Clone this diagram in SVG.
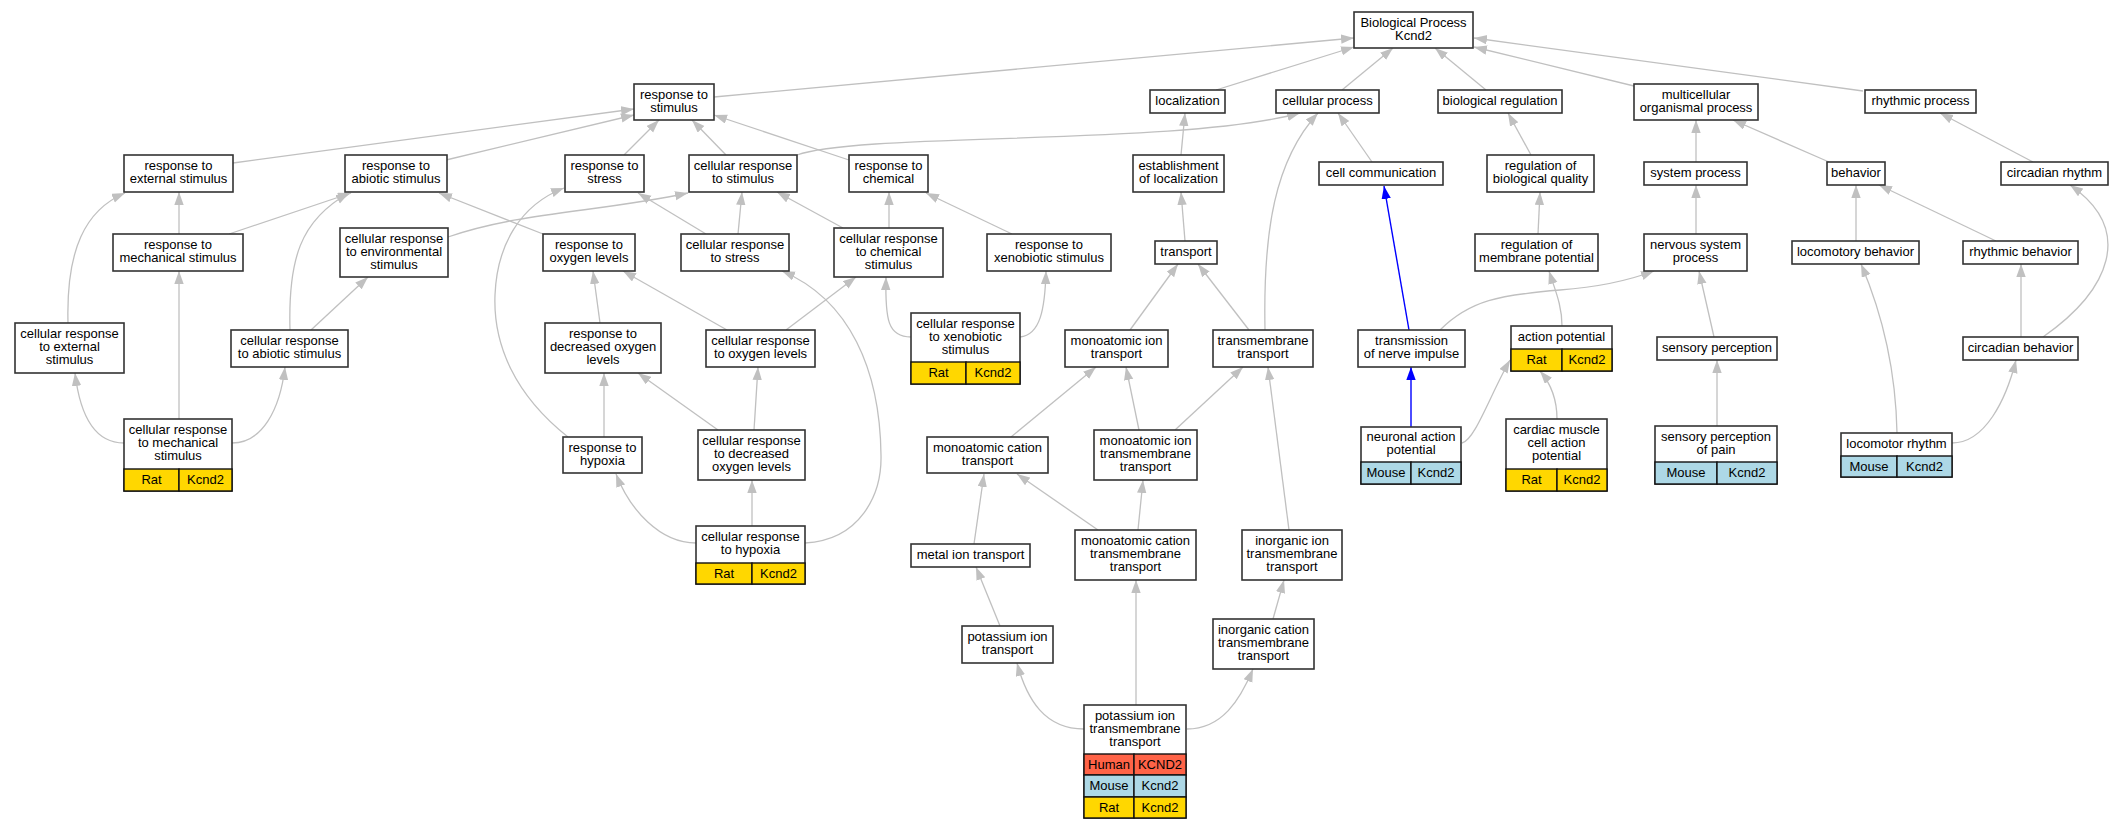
<svg xmlns="http://www.w3.org/2000/svg" width="2124" height="829" viewBox="0 0 2124 829">
<defs>
<marker id="ah" markerUnits="userSpaceOnUse" markerWidth="14" markerHeight="10" refX="13" refY="4.7" orient="auto"><path d="M0,0 L13,4.7 L0,9.4 z" fill="#C0C0C0"/></marker>
<marker id="ahb" markerUnits="userSpaceOnUse" markerWidth="14" markerHeight="10" refX="13" refY="4.7" orient="auto"><path d="M0,0 L13,4.7 L0,9.4 z" fill="#0000FF"/></marker>
</defs>
<style>
.e{fill:none;stroke:#C0C0C0;stroke-width:1.3;marker-end:url(#ah)}
.b{fill:none;stroke:#0000FF;stroke-width:1.4;marker-end:url(#ahb)}
.box{fill:#fff;stroke:#333;stroke-width:1.6}
.rat{fill:#FFD700;stroke:#111;stroke-width:1.4}
.mouse{fill:#ADD8E6;stroke:#111;stroke-width:1.4}
.human{fill:#FF6347;stroke:#111;stroke-width:1.4}
text{font-family:"Liberation Sans",Arial,Helvetica,sans-serif;font-size:13px;fill:#000;text-anchor:middle}
</style>
<rect width="2124" height="829" fill="#fff"/>
<g id="edges">
<path class="e" d="M714,97 L1354,38"/>
<path class="e" d="M1216,90 L1354,47"/>
<path class="e" d="M1342,90 L1393,48"/>
<path class="e" d="M1486,90 L1435,48"/>
<path class="e" d="M1634,86 L1474,47"/>
<path class="e" d="M1863,91 L1474,38"/>
<path class="e" d="M233,163 L634,109"/>
<path class="e" d="M446,160 L634,115"/>
<path class="e" d="M624,155 L659,120"/>
<path class="e" d="M726,155 L692,120"/>
<path class="e" d="M849,160 L714,115"/>
<path class="e" d="M797,155 C860,132 1180,146 1300,113"/>
<path class="e" d="M1181,155 L1185,113"/>
<path class="e" d="M1265,330 C1263,230 1275,160 1318,113"/>
<path class="e" d="M1372,162 L1338,113"/>
<path class="b" d="M1409,330 L1384,186"/>
<path class="e" d="M1531,155 L1508,113"/>
<path class="e" d="M1696,162 L1696,120"/>
<path class="e" d="M1829,162 L1733,120"/>
<path class="e" d="M2033,162 L1940,113"/>
<path class="e" d="M179,234 L179,192"/>
<path class="e" d="M229,234 L351,193"/>
<path class="e" d="M448,237 C520,212 600,212 688,193"/>
<path class="e" d="M543,234 L439,193"/>
<path class="e" d="M706,234 L638,193"/>
<path class="e" d="M738,234 L742,192"/>
<path class="e" d="M843,228 L777,192"/>
<path class="e" d="M889,228 L889,192"/>
<path class="e" d="M1012,234 L926,193"/>
<path class="e" d="M1185,241 L1181,192"/>
<path class="e" d="M1538,234 L1540,192"/>
<path class="e" d="M1696,234 L1696,185"/>
<path class="e" d="M1856,241 L1856,185"/>
<path class="e" d="M1996,241 L1879,185"/>
<path class="e" d="M2043,337 C2110,290 2135,230 2070,185"/>
<path class="e" d="M68,323 C66,250 85,210 125,193"/>
<path class="e" d="M179,419 L179,271"/>
<path class="e" d="M124,443 C95,443 80,415 75,373"/>
<path class="e" d="M232,443 C262,443 280,410 285,367"/>
<path class="e" d="M290,330 C288,260 300,220 349,193"/>
<path class="e" d="M311,330 L368,277"/>
<path class="e" d="M568,437 C515,395 493,345 495,295 C497,245 520,205 564,188"/>
<path class="e" d="M600,323 L593,271"/>
<path class="e" d="M727,330 L623,271"/>
<path class="e" d="M786,330 L856,277"/>
<path class="e" d="M911,337 C888,337 885,320 886,277"/>
<path class="e" d="M1020,337 C1040,335 1045,310 1046,271"/>
<path class="e" d="M1130,330 L1178,264"/>
<path class="e" d="M1249,330 L1198,264"/>
<path class="e" d="M805,543 C860,540 882,495 881,455 C880,370 850,300 782,271"/>
<path class="b" d="M1411,427 L1411,367"/>
<path class="e" d="M1562,326 C1562,305 1555,290 1549,271"/>
<path class="e" d="M1440,330 C1470,300 1500,295 1560,290 C1600,287 1630,280 1654,271"/>
<path class="e" d="M1714,337 L1699,271"/>
<path class="e" d="M1897,433 C1896,380 1885,320 1861,264"/>
<path class="e" d="M2021,337 L2021,264"/>
<path class="e" d="M1952,443 C1985,443 2006,400 2016,360"/>
<path class="e" d="M718,430 L638,373"/>
<path class="e" d="M754,430 L758,367"/>
<path class="e" d="M604,437 L604,373"/>
<path class="e" d="M696,543 C660,543 630,510 616,474"/>
<path class="e" d="M752,526 L752,480"/>
<path class="e" d="M1011,437 L1096,367"/>
<path class="e" d="M1139,430 L1126,367"/>
<path class="e" d="M1175,430 L1243,367"/>
<path class="e" d="M974,544 L984,474"/>
<path class="e" d="M1098,530 L1017,474"/>
<path class="e" d="M1138,530 L1143,480"/>
<path class="e" d="M1289,530 L1268,367"/>
<path class="e" d="M1000,626 L976,567"/>
<path class="e" d="M1273,619 L1284,580"/>
<path class="e" d="M1084,729 C1045,729 1027,700 1017,663"/>
<path class="e" d="M1136,705 L1136,580"/>
<path class="e" d="M1187,729 C1222,729 1240,700 1253,669"/>
<path class="e" d="M1462,443 C1475,440 1490,395 1510,360"/>
<path class="e" d="M1557,419 C1557,400 1552,385 1540,371"/>
<path class="e" d="M1717,426 L1717,360"/>
</g>
<g id="n1"><rect class="box" x="1354" y="12" width="119" height="36"/><text x="1413.5" y="26.6">Biological Process</text><text x="1413.5" y="39.8">Kcnd2</text></g>
<g id="n2"><rect class="box" x="634" y="84" width="80" height="36"/><text x="674" y="98.6">response to</text><text x="674" y="111.8">stimulus</text></g>
<g id="n3"><rect class="box" x="1150" y="90" width="75" height="23"/><text x="1187.5" y="104.9">localization</text></g>
<g id="n4"><rect class="box" x="1276" y="90" width="103" height="23"/><text x="1327.5" y="104.9">cellular process</text></g>
<g id="n5"><rect class="box" x="1438" y="90" width="124" height="23"/><text x="1500" y="104.9">biological regulation</text></g>
<g id="n6"><rect class="box" x="1634" y="84" width="124" height="36"/><text x="1696" y="98.6">multicellular</text><text x="1696" y="111.8">organismal process</text></g>
<g id="n7"><rect class="box" x="1865" y="90" width="111" height="23"/><text x="1920.5" y="104.9">rhythmic process</text></g>
<g id="n8"><rect class="box" x="124" y="155" width="109" height="37"/><text x="178.5" y="170.1">response to</text><text x="178.5" y="183.3">external stimulus</text></g>
<g id="n9"><rect class="box" x="345" y="155" width="102" height="37"/><text x="396" y="170.1">response to</text><text x="396" y="183.3">abiotic stimulus</text></g>
<g id="n10"><rect class="box" x="565" y="155" width="79" height="37"/><text x="604.5" y="170.1">response to</text><text x="604.5" y="183.3">stress</text></g>
<g id="n11"><rect class="box" x="689" y="155" width="108" height="37"/><text x="743" y="170.1">cellular response</text><text x="743" y="183.3">to stimulus</text></g>
<g id="n12"><rect class="box" x="849" y="155" width="79" height="37"/><text x="888.5" y="170.1">response to</text><text x="888.5" y="183.3">chemical</text></g>
<g id="n13"><rect class="box" x="1133" y="155" width="91" height="37"/><text x="1178.5" y="170.1">establishment</text><text x="1178.5" y="183.3">of localization</text></g>
<g id="n14"><rect class="box" x="1319" y="162" width="124" height="23"/><text x="1381" y="176.9">cell communication</text></g>
<g id="n15"><rect class="box" x="1487" y="155" width="107" height="37"/><text x="1540.5" y="170.1">regulation of</text><text x="1540.5" y="183.3">biological quality</text></g>
<g id="n16"><rect class="box" x="1644" y="162" width="103" height="23"/><text x="1695.5" y="176.9">system process</text></g>
<g id="n17"><rect class="box" x="1827" y="162" width="58" height="23"/><text x="1856" y="176.9">behavior</text></g>
<g id="n18"><rect class="box" x="2001" y="162" width="107" height="23"/><text x="2054.5" y="176.9">circadian rhythm</text></g>
<g id="n19"><rect class="box" x="113" y="234" width="130" height="37"/><text x="178" y="249.1">response to</text><text x="178" y="262.3">mechanical stimulus</text></g>
<g id="n20"><rect class="box" x="340" y="228" width="108" height="49"/><text x="394" y="242.5">cellular response</text><text x="394" y="255.7">to environmental</text><text x="394" y="268.9">stimulus</text></g>
<g id="n21"><rect class="box" x="543" y="234" width="92" height="37"/><text x="589" y="249.1">response to</text><text x="589" y="262.3">oxygen levels</text></g>
<g id="n22"><rect class="box" x="681" y="234" width="108" height="37"/><text x="735" y="249.1">cellular response</text><text x="735" y="262.3">to stress</text></g>
<g id="n23"><rect class="box" x="834" y="228" width="109" height="49"/><text x="888.5" y="242.5">cellular response</text><text x="888.5" y="255.7">to chemical</text><text x="888.5" y="268.9">stimulus</text></g>
<g id="n24"><rect class="box" x="987" y="234" width="124" height="37"/><text x="1049" y="249.1">response to</text><text x="1049" y="262.3">xenobiotic stimulus</text></g>
<g id="n25"><rect class="box" x="1155" y="241" width="62" height="23"/><text x="1186" y="255.9">transport</text></g>
<g id="n26"><rect class="box" x="1475" y="234" width="123" height="37"/><text x="1536.5" y="249.1">regulation of</text><text x="1536.5" y="262.3">membrane potential</text></g>
<g id="n27"><rect class="box" x="1644" y="234" width="103" height="37"/><text x="1695.5" y="249.1">nervous system</text><text x="1695.5" y="262.3">process</text></g>
<g id="n28"><rect class="box" x="1792" y="241" width="127" height="23"/><text x="1855.5" y="255.9">locomotory behavior</text></g>
<g id="n29"><rect class="box" x="1963" y="241" width="115" height="23"/><text x="2020.5" y="255.9">rhythmic behavior</text></g>
<g id="n30"><rect class="box" x="15" y="323" width="109" height="50"/><text x="69.5" y="338">cellular response</text><text x="69.5" y="351.2">to external</text><text x="69.5" y="364.4">stimulus</text></g>
<g id="n31"><rect class="box" x="231" y="330" width="117" height="37"/><text x="289.5" y="345.1">cellular response</text><text x="289.5" y="358.3">to abiotic stimulus</text></g>
<g id="n32"><rect class="box" x="545" y="323" width="116" height="50"/><text x="603" y="338">response to</text><text x="603" y="351.2">decreased oxygen</text><text x="603" y="364.4">levels</text></g>
<g id="n33"><rect class="box" x="706" y="330" width="109" height="37"/><text x="760.5" y="345.1">cellular response</text><text x="760.5" y="358.3">to oxygen levels</text></g>
<g id="n34"><rect class="box" x="911" y="313" width="109" height="71"/><text x="965.5" y="327.5">cellular response</text><text x="965.5" y="340.7">to xenobiotic</text><text x="965.5" y="353.9">stimulus</text><rect class="rat" x="911" y="362" width="55" height="22"/><rect class="rat" x="966" y="362" width="54" height="22"/><text x="938.5" y="377">Rat</text><text x="993" y="377">Kcnd2</text></g>
<g id="n35"><rect class="box" x="1065" y="330" width="103" height="37"/><text x="1116.5" y="345.1">monoatomic ion</text><text x="1116.5" y="358.3">transport</text></g>
<g id="n36"><rect class="box" x="1213" y="330" width="100" height="37"/><text x="1263" y="345.1">transmembrane</text><text x="1263" y="358.3">transport</text></g>
<g id="n37"><rect class="box" x="1358" y="330" width="107" height="37"/><text x="1411.5" y="345.1">transmission</text><text x="1411.5" y="358.3">of nerve impulse</text></g>
<g id="n38"><rect class="box" x="1511" y="326" width="101" height="45"/><text x="1561.5" y="340.9">action potential</text><rect class="rat" x="1511" y="349" width="51" height="22"/><rect class="rat" x="1562" y="349" width="50" height="22"/><text x="1536.5" y="364">Rat</text><text x="1587" y="364">Kcnd2</text></g>
<g id="n39"><rect class="box" x="1657" y="337" width="120" height="23"/><text x="1717" y="351.9">sensory perception</text></g>
<g id="n40"><rect class="box" x="1963" y="337" width="115" height="23"/><text x="2020.5" y="351.9">circadian behavior</text></g>
<g id="n41"><rect class="box" x="124" y="419" width="108" height="72"/><text x="178" y="434">cellular response</text><text x="178" y="447.2">to mechanical</text><text x="178" y="460.4">stimulus</text><rect class="rat" x="124" y="469" width="55" height="22"/><rect class="rat" x="179" y="469" width="53" height="22"/><text x="151.5" y="484">Rat</text><text x="205.5" y="484">Kcnd2</text></g>
<g id="n42"><rect class="box" x="563" y="437" width="79" height="36"/><text x="602.5" y="451.6">response to</text><text x="602.5" y="464.8">hypoxia</text></g>
<g id="n43"><rect class="box" x="698" y="430" width="107" height="50"/><text x="751.5" y="445">cellular response</text><text x="751.5" y="458.2">to decreased</text><text x="751.5" y="471.4">oxygen levels</text></g>
<g id="n44"><rect class="box" x="927" y="437" width="121" height="36"/><text x="987.5" y="451.6">monoatomic cation</text><text x="987.5" y="464.8">transport</text></g>
<g id="n45"><rect class="box" x="1094" y="430" width="103" height="50"/><text x="1145.5" y="445">monoatomic ion</text><text x="1145.5" y="458.2">transmembrane</text><text x="1145.5" y="471.4">transport</text></g>
<g id="n46"><rect class="box" x="1361" y="427" width="100" height="57"/><text x="1411" y="441.1">neuronal action</text><text x="1411" y="454.3">potential</text><rect class="mouse" x="1361" y="462" width="50" height="22"/><rect class="mouse" x="1411" y="462" width="50" height="22"/><text x="1386" y="477">Mouse</text><text x="1436" y="477">Kcnd2</text></g>
<g id="n47"><rect class="box" x="1506" y="419" width="101" height="72"/><text x="1556.5" y="434">cardiac muscle</text><text x="1556.5" y="447.2">cell action</text><text x="1556.5" y="460.4">potential</text><rect class="rat" x="1506" y="469" width="51" height="22"/><rect class="rat" x="1557" y="469" width="50" height="22"/><text x="1531.5" y="484">Rat</text><text x="1582" y="484">Kcnd2</text></g>
<g id="n48"><rect class="box" x="1655" y="426" width="122" height="58"/><text x="1716" y="440.6">sensory perception</text><text x="1716" y="453.8">of pain</text><rect class="mouse" x="1655" y="462" width="62" height="22"/><rect class="mouse" x="1717" y="462" width="60" height="22"/><text x="1686" y="477">Mouse</text><text x="1747" y="477">Kcnd2</text></g>
<g id="n49"><rect class="box" x="1841" y="433" width="111" height="44"/><text x="1896.5" y="447.9">locomotor rhythm</text><rect class="mouse" x="1841" y="456" width="56" height="21"/><rect class="mouse" x="1897" y="456" width="55" height="21"/><text x="1869" y="470.5">Mouse</text><text x="1924.5" y="470.5">Kcnd2</text></g>
<g id="n50"><rect class="box" x="696" y="526" width="109" height="58"/><text x="750.5" y="541.1">cellular response</text><text x="750.5" y="554.3">to hypoxia</text><rect class="rat" x="696" y="563" width="56" height="21"/><rect class="rat" x="752" y="563" width="53" height="21"/><text x="724" y="577.5">Rat</text><text x="778.5" y="577.5">Kcnd2</text></g>
<g id="n51"><rect class="box" x="911" y="544" width="119" height="23"/><text x="970.5" y="558.9">metal ion transport</text></g>
<g id="n52"><rect class="box" x="1075" y="530" width="121" height="50"/><text x="1135.5" y="545">monoatomic cation</text><text x="1135.5" y="558.2">transmembrane</text><text x="1135.5" y="571.4">transport</text></g>
<g id="n53"><rect class="box" x="1242" y="530" width="100" height="50"/><text x="1292" y="545">inorganic ion</text><text x="1292" y="558.2">transmembrane</text><text x="1292" y="571.4">transport</text></g>
<g id="n54"><rect class="box" x="962" y="626" width="91" height="37"/><text x="1007.5" y="641.1">potassium ion</text><text x="1007.5" y="654.3">transport</text></g>
<g id="n55"><rect class="box" x="1213" y="619" width="101" height="50"/><text x="1263.5" y="634">inorganic cation</text><text x="1263.5" y="647.2">transmembrane</text><text x="1263.5" y="660.4">transport</text></g>
<g id="n56"><rect class="box" x="1084" y="705" width="102" height="113"/><text x="1135" y="719.5">potassium ion</text><text x="1135" y="732.7">transmembrane</text><text x="1135" y="745.9">transport</text><rect class="human" x="1084" y="754" width="50" height="21"/><rect class="human" x="1134" y="754" width="52" height="21"/><text x="1109" y="768.5">Human</text><text x="1160" y="768.5">KCND2</text><rect class="mouse" x="1084" y="775" width="50" height="22"/><rect class="mouse" x="1134" y="775" width="52" height="22"/><text x="1109" y="790">Mouse</text><text x="1160" y="790">Kcnd2</text><rect class="rat" x="1084" y="797" width="50" height="21"/><rect class="rat" x="1134" y="797" width="52" height="21"/><text x="1109" y="811.5">Rat</text><text x="1160" y="811.5">Kcnd2</text></g>
</svg>
